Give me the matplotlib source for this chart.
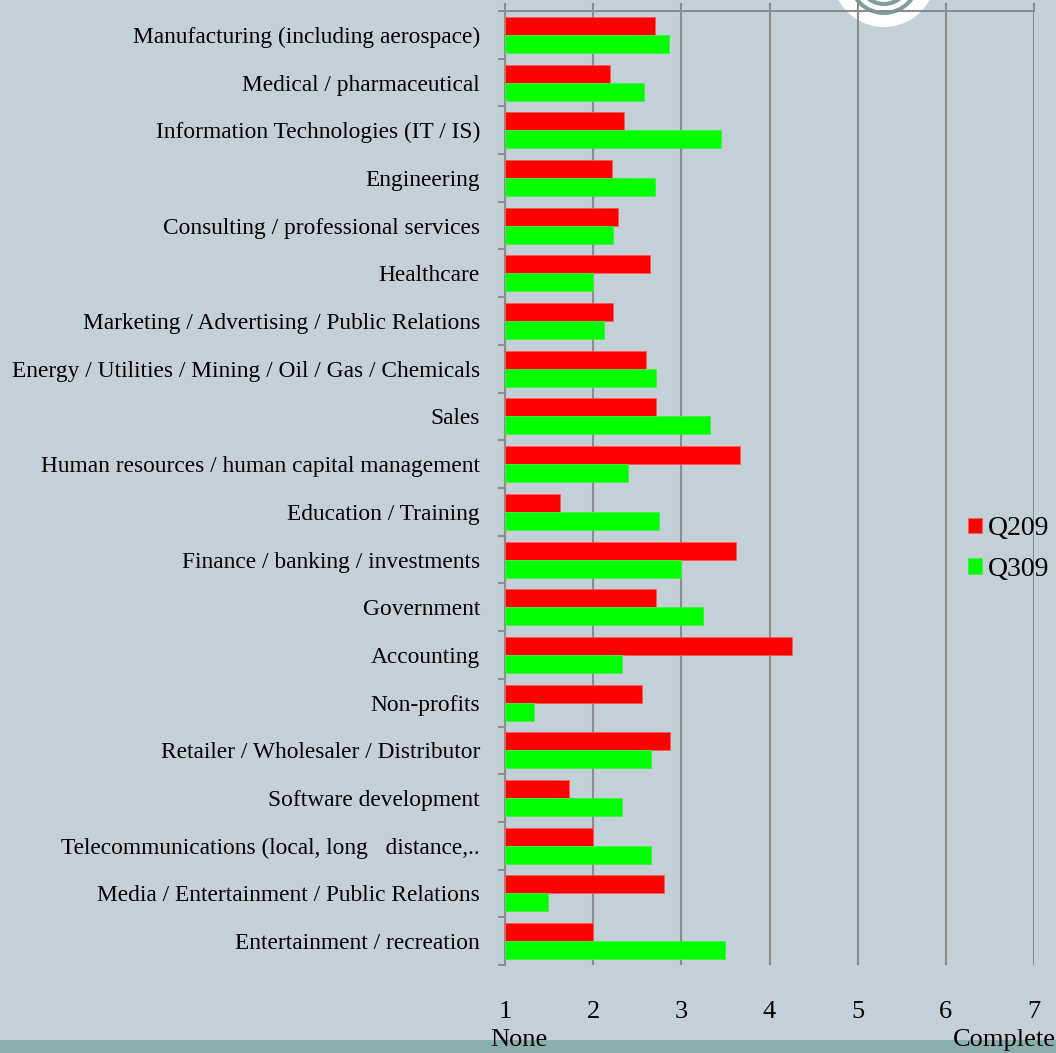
"""Industry ratings by quarter - horizontal bar chart."""

import numpy as np
import matplotlib.pyplot as plt
from matplotlib.patches import Ellipse, Rectangle

# Categories, top to bottom
categories = [
    "Manufacturing (including aerospace)",
    "Medical / pharmaceutical",
    "Information Technologies (IT / IS)",
    "Engineering",
    "Consulting / professional services",
    "Healthcare",
    "Marketing / Advertising / Public Relations",
    "Energy / Utilities / Mining / Oil / Gas / Chemicals",
    "Sales",
    "Human resources / human capital management",
    "Education / Training",
    "Finance / banking / investments",
    "Government",
    "Accounting",
    "Non-profits",
    "Retailer / Wholesaler / Distributor",
    "Software development",
    "Telecommunications (local, long   distance,..",
    "Media / Entertainment / Public Relations",
    "Entertainment / recreation",
]

q209 = [2.70, 2.19, 2.35, 2.21, 2.28, 2.65, 2.23, 2.60, 2.71, 3.66,
        1.62, 3.62, 2.71, 4.25, 2.55, 2.87, 1.73, 2.00, 2.80, 2.00]
q309 = [2.86, 2.58, 3.45, 2.70, 2.22, 2.00, 2.12, 2.71, 3.33, 2.40,
        2.75, 3.00, 3.25, 2.33, 1.33, 2.66, 2.33, 2.66, 1.49, 3.50]

series = ["Q209", "Q309"]
x_ticks = [1, 2, 3, 4, 5, 6, 7]
x_end_labels = {1: "None", 7: "Complete"}

# Styling
BG = "#c4d0d7"
GRID = "#8c8c8c"
FONT = "Liberation Serif"
W, H = 1056, 1053

fig = plt.figure(figsize=(W / 100, H / 100), dpi=100, facecolor=BG)

# Logo at the top right (white disc with teal rings), behind the axes
fig.add_artist(Ellipse((884 / W, 1 + 25 / H), 104 / W, 104 / H,
                       transform=fig.transFigure, facecolor="white",
                       edgecolor="none", zorder=0))
for r in (34, 25):
    fig.add_artist(Ellipse((884 / W, 1 + 21 / H), 2 * r / W, 2 * r / H,
                           transform=fig.transFigure, facecolor="none",
                           edgecolor="#7f9e9e", lw=3, zorder=0))

# Bottom band
fig.add_artist(Rectangle((0, 0), 1, 13 / H, transform=fig.transFigure,
                         facecolor="#8aadad", edgecolor="none", zorder=0))

ax = fig.add_axes([505 / W, 1 - 965 / H, (1034 - 505) / W, (965 - 11) / H])
ax.set_facecolor("none")
ax.set_zorder(1)

y = np.arange(len(categories))
h = 0.377

ax.barh(y - h / 2, np.array(q209) - 1, left=1, height=h, color="#ff0000",
        edgecolor="#ff5a5a", linewidth=0.6, label=series[0], zorder=3)
ax.barh(y + h / 2, np.array(q309) - 1, left=1, height=h, color="#00ff00",
        edgecolor="#40f040", linewidth=0.6, label=series[1], zorder=3)

ax.set_xlim(1, 7)
ax.set_ylim(len(categories) - 0.5, -0.5)

# Value axis sits at the top, its numbers are written below the chart
ax.set_xticks(x_ticks)
ax.xaxis.grid(True, color=GRID, lw=1.5, zorder=1)
ax.tick_params(axis="x", top=True, bottom=False, labeltop=False,
               labelbottom=True, direction="out", length=6, width=1.5,
               color=GRID, pad=20, labelsize=19)
for lbl in ax.get_xticklabels():
    lbl.set_family(FONT)

blend = ax.get_xaxis_transform()
end_offsets = {1: (-11, "left"), 7: (16, "right")}
for v, s in x_end_labels.items():
    dx, ha = end_offsets[v]
    ax.annotate(s, xy=(v, 0), xycoords=blend, xytext=(dx, -54),
                textcoords="offset points", ha=ha, va="center",
                fontsize=19, family=FONT, color="black",
                annotation_clip=False)

# Category axis
ax.set_yticks(y)
ax.set_yticklabels(categories, family=FONT, fontsize=16.8)
ax.set_yticks(np.arange(len(categories) + 1) - 0.5, minor=True)
ax.tick_params(axis="y", which="major", length=0, pad=18)
ax.tick_params(axis="y", which="minor", length=5, width=1.5, color=GRID)

for side in ("top", "left"):
    ax.spines[side].set_color(GRID)
    ax.spines[side].set_linewidth(1.5)
for side in ("right", "bottom"):
    ax.spines[side].set_visible(False)

leg = ax.legend(loc="center left", bbox_to_anchor=(452 / 529, 0.436),
                frameon=False, prop={"family": FONT, "size": 20},
                handlelength=0.5, handleheight=0.5, handletextpad=0.2,
                labelspacing=0.55, borderaxespad=0)

fig.savefig("out.png", dpi=100, facecolor=BG)
